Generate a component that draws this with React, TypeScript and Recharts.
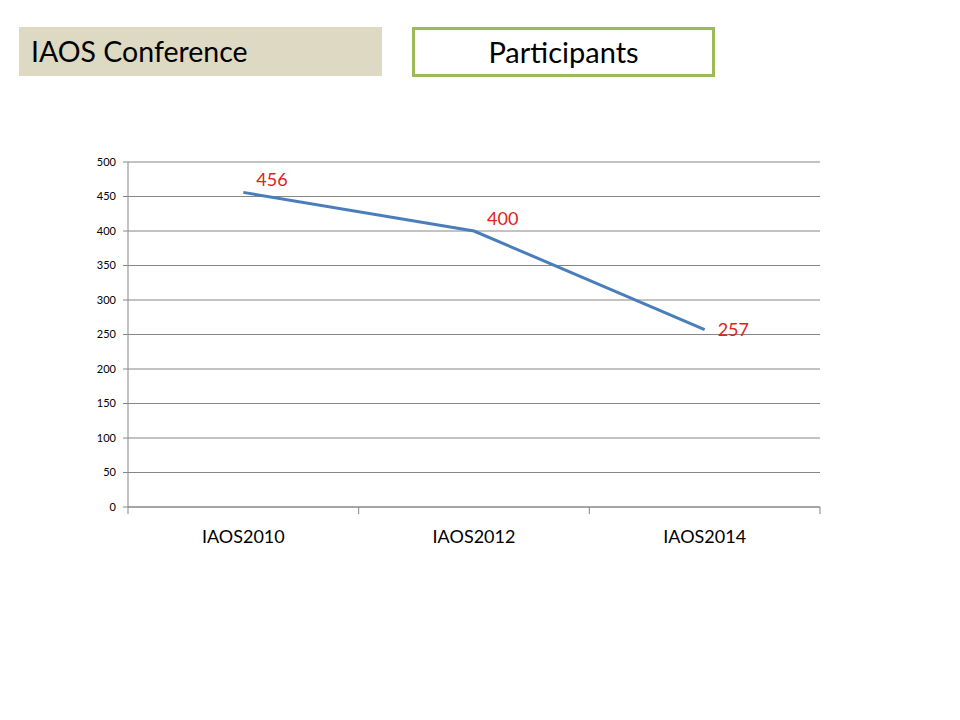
import React from 'react';
import { LineChart, Line, XAxis, YAxis, CartesianGrid, LabelList } from 'recharts';

const categories = ['IAOS2010', 'IAOS2012', 'IAOS2014'];
const participants = [456, 400, 257];
const yTicks = [0, 50, 100, 150, 200, 250, 300, 350, 400, 450, 500];
const boundaryTicks = [0, 1, 2, 3];
const centerTicks = [0.5, 1.5, 2.5];

const data = categories.map((name, i) => ({ name, value: participants[i], idx: i + 0.5 }));

const FONT = 'Lato, "Open Sans", sans-serif';

const PointLabel = (props: any) => {
    const { x, y, value, index } = props;
    const dy = index === 2 ? 2 : -11;
    return (
        <text x={x + 13} y={y + dy} fill="#e3201b" fontSize={18} fontFamily={FONT} dominantBaseline="middle">
            {value}
        </text>
    );
};

export default function App() {
    return (
        <div style={{ position: 'absolute', left: 0, top: 0, width: 960, height: 720, background: '#fff', fontFamily: FONT }}>
            <div
                style={{
                    position: 'absolute',
                    left: 19,
                    top: 27,
                    width: 363,
                    height: 49,
                    background: '#ddd9c3',
                    fontSize: 28.5,
                    lineHeight: '49px',
                    paddingLeft: 12,
                    boxSizing: 'border-box',
                    color: '#000',
                }}
            >
                IAOS Conference
            </div>
            <div
                style={{
                    position: 'absolute',
                    left: 412,
                    top: 27,
                    width: 303,
                    height: 50,
                    border: '3px solid #9bbb59',
                    boxSizing: 'border-box',
                    fontSize: 29,
                    lineHeight: '44px',
                    textAlign: 'center',
                    color: '#000',
                }}
            >
                Participants
            </div>
            <div style={{ position: 'absolute', left: 0, top: 0 }}>
                <LineChart width={960} height={720} data={data} margin={{ top: 162, right: 140, left: 88, bottom: 165 }}>
                    <CartesianGrid xAxisId="a" vertical={false} stroke="#868686" />
                    <XAxis
                        xAxisId="a"
                        type="number"
                        dataKey="idx"
                        domain={[0, 3]}
                        ticks={boundaryTicks}
                        interval={0}
                        tick={{ fontSize: 1, fill: 'none' }}
                        tickSize={7}
                        height={8}
                        axisLine={{ stroke: '#868686' }}
                        tickLine={{ stroke: '#868686' }}
                    />
                    <XAxis
                        xAxisId="b"
                        type="number"
                        dataKey="idx"
                        domain={[0, 3]}
                        ticks={centerTicks}
                        interval={0}
                        tickFormatter={(v: number) => categories[Math.floor(v)]}
                        axisLine={false}
                        tickLine={false}
                        height={40}
                        tickMargin={9}
                        tick={{ fontSize: 18, fill: '#000', fontFamily: FONT }}
                    />
                    <YAxis
                        domain={[0, 500]}
                        ticks={yTicks}
                        width={40}
                        tickSize={5}
                        tickMargin={7}
                        axisLine={{ stroke: '#868686' }}
                        tickLine={{ stroke: '#868686' }}
                        tick={{ fontSize: 11, fill: '#000', fontFamily: FONT }}
                    />
                    <Line
                        xAxisId="a"
                        dataKey="value"
                        stroke="#4a7ebb"
                        strokeWidth={3}
                        dot={false}
                        isAnimationActive={false}
                    >
                        <LabelList dataKey="value" content={<PointLabel />} />
                    </Line>
                </LineChart>
            </div>
        </div>
    );
}
